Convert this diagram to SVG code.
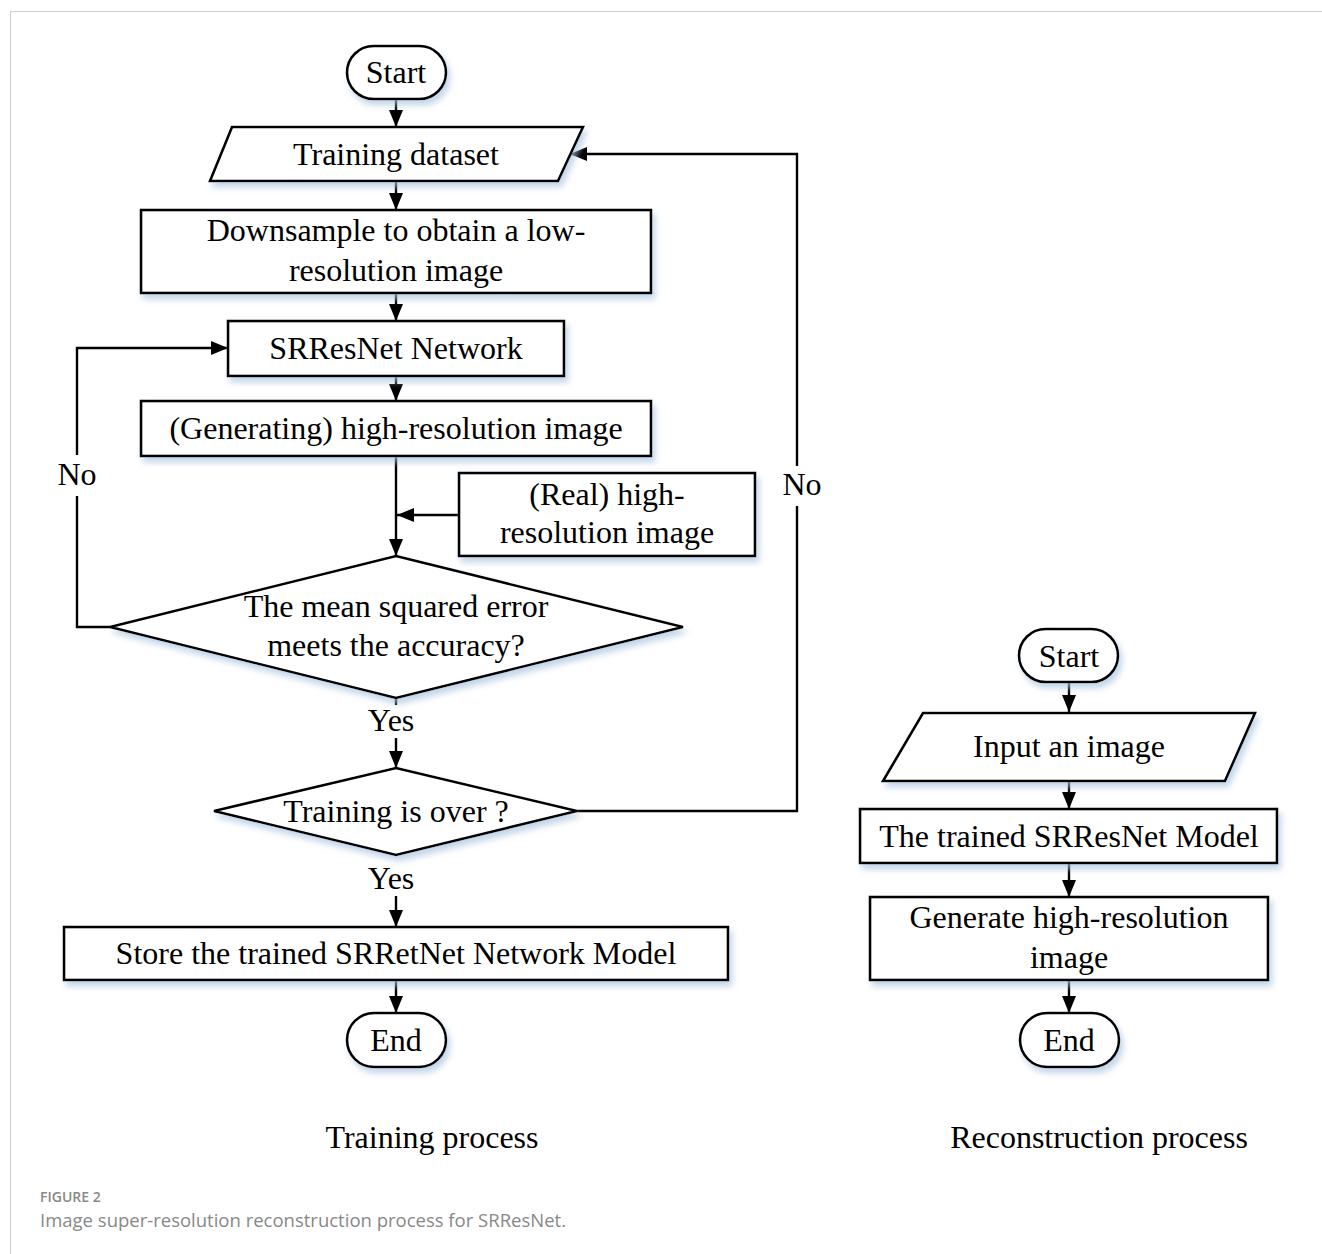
<svg xmlns="http://www.w3.org/2000/svg" width="1322" height="1254" viewBox="0 0 1322 1254">
<defs>
<marker id="ah" viewBox="0 0 17 14" refX="17" refY="7" markerWidth="17" markerHeight="14" markerUnits="userSpaceOnUse" orient="auto">
<path d="M0,0 L17,7 L0,14 Z" fill="#000"/>
</marker>
<filter id="sh" x="-10%" y="-10%" width="130%" height="140%">
<feDropShadow dx="3" dy="5" stdDeviation="3" flood-color="#a9c3df" flood-opacity="0.7"/>
</filter>
</defs>
<style>
.n{fill:#fff;stroke:#000;stroke-width:2.6;filter:url(#sh)}
.t{font-family:"Liberation Serif","Times New Roman",serif;font-size:32px;fill:#000;text-anchor:middle}
.c{fill:none;stroke:#000;stroke-width:2.4}
.a{marker-end:url(#ah)}
.cap{font-family:"Open Sans","Noto Sans",sans-serif;fill:#888}
</style>
<rect x="10.5" y="11.5" width="1330" height="1260" fill="#fff" stroke="#ccc" stroke-width="1"/>

<g id="connectors">
<line class="c a" x1="396" y1="99" x2="396" y2="127"/>
<line class="c a" x1="396" y1="181" x2="396" y2="210"/>
<line class="c a" x1="396" y1="293" x2="396" y2="321"/>
<line class="c a" x1="396" y1="376" x2="396" y2="401"/>
<line class="c a" x1="396" y1="456" x2="396" y2="556"/>
<line class="c a" x1="459" y1="515" x2="397" y2="515"/>
<polyline class="c" points="110,627 77,627 77,496"/>
<polyline class="c a" points="77,455 77,348 228,348"/>
<line class="c" x1="396" y1="698" x2="396" y2="705"/>
<line class="c a" x1="396" y1="738" x2="396" y2="768"/>
<polyline class="c" points="577,811 797,811 797,506"/>
<polyline class="c a" points="797,466 797,154 570,154"/>
<line class="c a" x1="396" y1="896" x2="396" y2="927"/>
<line class="c a" x1="396" y1="980" x2="396" y2="1013"/>
<line class="c a" x1="1069" y1="682" x2="1069" y2="712"/>
<line class="c a" x1="1069" y1="781" x2="1069" y2="809"/>
<line class="c a" x1="1069" y1="863" x2="1069" y2="897"/>
<line class="c a" x1="1069" y1="980" x2="1069" y2="1013"/>
<text class="t" x="77" y="485">No</text>
<text class="t" x="802" y="495">No</text>
<text class="t" x="391" y="731">Yes</text>
<text class="t" x="391" y="889">Yes</text>
</g>

<g id="start1"><rect class="n" x="347" y="46" width="99" height="53" rx="26.5"/><text class="t" x="396" y="83">Start</text></g>
<g id="dataset"><polygon class="n" points="232,127 583,127 558,181 210,181"/><text class="t" x="396" y="165">Training dataset</text></g>
<g id="downsample"><rect class="n" x="141" y="210" width="510" height="83"/><text class="t" x="396" y="241">Downsample to obtain a low-</text><text class="t" x="396" y="281">resolution image</text></g>
<g id="srresnet"><rect class="n" x="228" y="321" width="336" height="55"/><text class="t" x="396" y="359">SRResNet Network</text></g>
<g id="generating"><rect class="n" x="141" y="401" width="510" height="55"/><text class="t" x="396" y="439">(Generating) high-resolution image</text></g>
<g id="real"><rect class="n" x="459" y="473" width="296" height="83"/><text class="t" x="607" y="505">(Real) high-</text><text class="t" x="607" y="543">resolution image</text></g>
<g id="mse"><polygon class="n" points="396,556 683,627 396,698 110,627"/><text class="t" x="396" y="617">The mean squared error</text><text class="t" x="396" y="656">meets the accuracy?</text></g>
<g id="over"><polygon class="n" points="396,768 577,811 396,855 214,811"/><text class="t" x="396" y="822">Training is over ?</text></g>
<g id="store"><rect class="n" x="64" y="927" width="664" height="53"/><text class="t" x="396" y="964">Store the trained SRRetNet Network Model</text></g>
<g id="end1"><rect class="n" x="347" y="1013" width="99" height="54" rx="27"/><text class="t" x="396" y="1051">End</text></g>

<g id="start2"><rect class="n" x="1019" y="629" width="99" height="53" rx="26.5"/><text class="t" x="1069" y="667">Start</text></g>
<g id="input"><polygon class="n" points="923,713 1255,713 1225,781 883,781"/><text class="t" x="1069" y="757">Input an image</text></g>
<g id="trained"><rect class="n" x="860" y="809" width="417" height="54"/><text class="t" x="1069" y="847">The trained SRResNet Model</text></g>
<g id="generate"><rect class="n" x="870" y="897" width="398" height="83"/><text class="t" x="1069" y="928">Generate high-resolution</text><text class="t" x="1069" y="968">image</text></g>
<g id="end2"><rect class="n" x="1020" y="1013" width="99" height="54" rx="27"/><text class="t" x="1069" y="1051">End</text></g>

<text class="t" x="432" y="1148">Training process</text>
<text class="t" x="1099" y="1148">Reconstruction process</text>

<text class="cap" x="40" y="1202" font-size="14" font-weight="600" fill="#808080">FIGURE 2</text>
<text class="cap" x="40" y="1227" font-size="18.5">Image super-resolution reconstruction process for SRResNet.</text>
</svg>
